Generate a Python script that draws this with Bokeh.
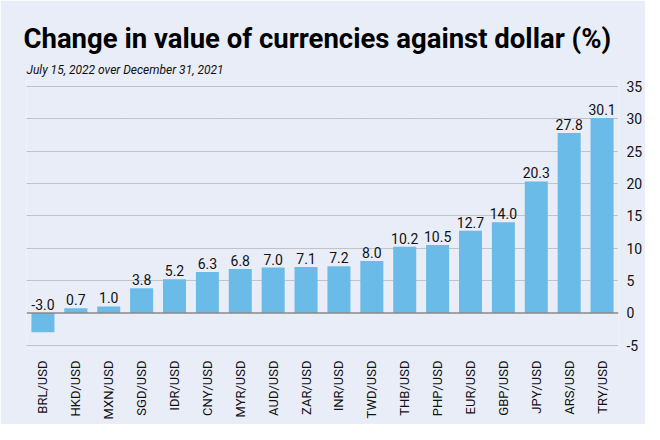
from bokeh.plotting import figure
from bokeh.models import ColumnDataSource, Title, Span, FixedTicker, LinearAxis
from bokeh.embed import file_html
from bokeh.resources import INLINE
from bokeh.core.properties import value
import math

categories = ["BRL/USD", "HKD/USD", "MXN/USD", "SGD/USD", "IDR/USD", "CNY/USD",
              "MYR/USD", "AUD/USD", "ZAR/USD", "INR/USD", "TWD/USD", "THB/USD",
              "PHP/USD", "EUR/USD", "GBP/USD", "JPY/USD", "ARS/USD", "TRY/USD"]
values = [-3.0, 0.7, 1.0, 3.8, 5.2, 6.3, 6.8, 7.0, 7.1, 7.2, 8.0, 10.2,
          10.5, 12.7, 14.0, 20.3, 27.8, 30.1]
y_ticks = [-5, 0, 5, 10, 15, 20, 25, 30, 35]

BG = "#e9edf8"
BAR = "#6bbbe8"
FONT = "Roboto"

labels = ["%.1f" % v for v in values]
label_y = [max(v, 0) for v in values]
src = ColumnDataSource(dict(cat=categories, val=values, lab=labels, ly=label_y))

p = figure(x_range=categories, y_range=(-5.5, 35.9), frame_width=592, frame_height=268,
           output_backend="svg", toolbar_location=None, title=None,
           background_fill_color=BG, border_fill_color=BG,
           min_border_left=26, min_border_right=26, min_border_bottom=76, min_border_top=80)
p.outline_line_color = None
p.x_range.range_padding = 0

p.vbar(x="cat", top="val", bottom=0, width=0.7, source=src, color=BAR, line_color=None)
p.text(x="cat", y="ly", text="lab", source=src, text_align="center", text_baseline="bottom",
       y_offset=-3, text_font=value(FONT), text_font_size="14px", text_color="#111111")

p.add_layout(Span(location=0, dimension="width", line_color="#888888", line_width=1.5))

# axes
p.yaxis.visible = False
yax = LinearAxis(ticker=FixedTicker(ticks=y_ticks))
yax.axis_line_color = None
yax.major_tick_line_color = None
yax.minor_tick_line_color = None
yax.major_label_text_font = FONT
yax.major_label_text_font_size = "14px"
yax.major_label_text_color = "#111111"
yax.major_label_standoff = 2
yax.major_label_overrides = {-5: "-5"}
p.add_layout(yax, "right")

p.xaxis.axis_line_color = None
p.xaxis.major_tick_line_color = None
p.xaxis.major_label_orientation = math.pi / 2
p.xaxis.major_label_text_font = FONT
p.xaxis.major_label_text_font_size = "13px"
p.xaxis.major_label_text_color = "#111111"
p.xaxis.major_label_standoff = 6

p.xgrid.grid_line_color = None
p.ygrid.ticker = FixedTicker(ticks=[t for t in y_ticks if t != 0])
p.ygrid.grid_line_color = "#999999"
p.ygrid.grid_line_dash = "1 1"
p.ygrid.grid_line_width = 1

sub = Title(text="July 15, 2022 over December 31, 2021", text_font=FONT,
            text_font_style="italic", text_font_size="12px", text_color="#111111",
            offset=0, standoff=7)
p.add_layout(sub, "above")
main = Title(text="Change in value of currencies against dollar (%)", text_font=FONT,
             text_font_style="bold", text_font_size="27.5px", text_color="#000000",
             offset=-3, standoff=6)
p.add_layout(main, "above")

open("out.html", "w").write(file_html(p, INLINE))
